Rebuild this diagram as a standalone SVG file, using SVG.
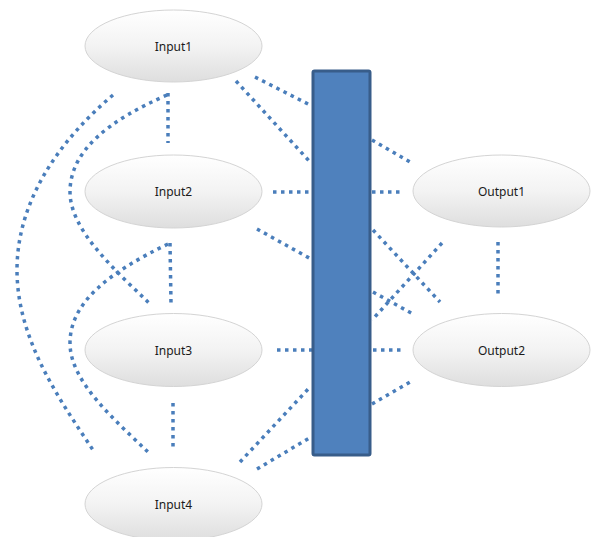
<svg xmlns="http://www.w3.org/2000/svg" width="593" height="537" viewBox="0 0 593 537">
<defs>
<linearGradient id="g" x1="0" y1="0" x2="0" y2="1">
<stop offset="0" stop-color="#ffffff"/>
<stop offset="0.5" stop-color="#f3f3f3"/>
<stop offset="1" stop-color="#dedede"/>
</linearGradient>
</defs>
<style>
.c{fill:none;stroke:#4a7ebb;stroke-width:3.5;stroke-dasharray:3.5 4.5}
.n{fill:url(#g);stroke:#d4d4d4;stroke-width:1}
.t{font-family:"Segoe UI","Noto Sans","DejaVu Sans",sans-serif;font-size:12px;fill:#1a1a1a;text-anchor:middle;dominant-baseline:central}
.bar{fill:#4f81bd;stroke:#385d8a;stroke-width:3}
</style>
<rect width="593" height="537" fill="#ffffff"/>
<g id="connectors">
<path class="c" d="M255,77 L312,106"/>
<path class="c" d="M236,81 L311,163"/>
<path class="c" d="M273,192 L312,192"/>
<path class="c" d="M257,229 L311,259"/>
<path class="c" d="M277,350 L312,350"/>
<path class="c" d="M240,462 L311,386"/>
<path class="c" d="M257,469 L311,437"/>
<path class="c" d="M372,140 L410,162"/>
<path class="c" d="M372,192 L402,192"/>
<path class="c" d="M373,230 L440,302"/>
<path class="c" d="M442,243 L372,320"/>
<path class="c" d="M373,292 L413,314"/>
<path class="c" d="M373,350 L405,350"/>
<path class="c" d="M372,404 L412,381"/>
<path class="c" d="M168,93 L168,143"/>
<path class="c" d="M170,243 L171,303"/>
<path class="c" d="M173,403 L173,450"/>
<path class="c" d="M498,242 L498,297"/>
<path class="c" d="M113,95 C60,140 17,200 17,270 C17,340 60,400 93,450"/>
<path class="c" d="M167,95 C110,120 70,150 70,192 C70,230 115,270 149,303"/>
<path class="c" d="M168,244 C110,272 70,302 70,343 C70,382 115,420 149,453"/>
</g>
<g id="input1"><ellipse class="n" cx="173.5" cy="46" rx="88.5" ry="36"/><text class="t" x="173.5" y="46">Input1</text></g>
<g id="input2"><ellipse class="n" cx="173.5" cy="191.5" rx="88.5" ry="36.5"/><text class="t" x="173.5" y="191.5">Input2</text></g>
<g id="input3"><ellipse class="n" cx="173.5" cy="350" rx="88.5" ry="36.5"/><text class="t" x="173.5" y="350">Input3</text></g>
<g id="input4"><ellipse class="n" cx="173.5" cy="504" rx="88.5" ry="36.5"/><text class="t" x="173.5" y="504">Input4</text></g>
<g id="output1"><ellipse class="n" cx="501.5" cy="191" rx="88.5" ry="36"/><text class="t" x="501.5" y="191">Output1</text></g>
<g id="output2"><ellipse class="n" cx="501.5" cy="350" rx="88.5" ry="36.5"/><text class="t" x="501.5" y="350">Output2</text></g>
<g id="bar"><rect class="bar" x="313" y="71" width="57" height="384" rx="1.5"/></g>
</svg>
